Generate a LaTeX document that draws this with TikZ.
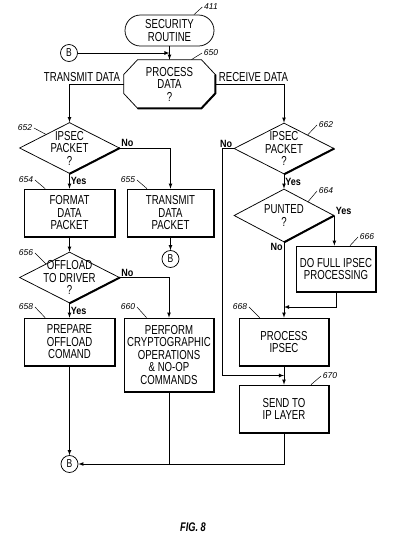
\documentclass[tikz,border=0pt]{standalone}
\usepackage{fontspec}
\setmainfont{Liberation Sans}
\newfontfamily\flowfont[FakeStretch=0.74]{Liberation Sans}
\newfontfamily\tagfont[FakeStretch=0.86]{Liberation Sans}
\usetikzlibrary{arrows}
\usetikzlibrary{shapes.geometric}

\begin{document}
\begin{tikzpicture}[>=latex, x=1pt, y=-1pt, line width=.75pt,
	txt/.style={font=\flowfont\fontsize{13}{12.5}\selectfont},
	box/.style={txt, draw, rectangle, inner sep=1pt, align=center,
		minimum width=90pt, minimum height=48pt},
	term/.style={txt, draw, rounded corners=15.5pt, align=center,
		minimum width=89pt, minimum height=31pt},
	decide/.style={txt, draw, diamond, aspect=2, inner sep=-7pt,
		align=center, minimum width=100pt, minimum height=51pt},
	conn/.style={draw, circle, inner sep=0pt, minimum size=17pt,
		font=\flowfont\fontsize{11.5}{11.5}\selectfont},
	yn/.style={inner sep=1pt, font=\tagfont\bfseries\fontsize{10.5}{10.5}\selectfont},
	ref/.style={inner sep=1.5pt, font=\itshape\fontsize{8.5}{8.5}\selectfont},
	lead/.style={line width=.5pt},
	heavy/.style={line width=2pt},
]
	\useasboundingbox (0,0) rectangle (400,542);

	% start and main branch
	\node[term] (sr) at (169.5,30.5) {SECURITY\\ROUTINE};
	\node[conn] (b1) at (69,53) {B};
	\node[txt, align=center, minimum width=91pt, minimum height=48pt] (pd)
		at (169.5,84) {PROCESS\\DATA\\?};
	\draw ([xshift=14pt]pd.north west) -- ([xshift=-14pt]pd.north east)
		-- ([yshift=-15pt]pd.north east) -- ([yshift=15pt]pd.south east)
		-- ([xshift=-14pt]pd.south east) -- ([xshift=14pt]pd.south west)
		-- ([yshift=15pt]pd.south west) -- ([yshift=-15pt]pd.north west) -- cycle;
	\draw[heavy] ([yshift=-15pt]pd.north east) -- ([yshift=15pt]pd.south east)
		-- ([xshift=-14pt]pd.south east) -- ([xshift=14pt]pd.south west);
	\node[txt] (tx) at (82,77.5) {TRANSMIT DATA};
	\node[txt] (rx) at (253.5,77.5) {RECEIVE DATA};

	% transmit side
	\node[decide] (d652) at (69.5,148) {IPSEC\\PACKET\\?};
	\node[box] (b654) at (69.5,213) {FORMAT\\DATA\\PACKET};
	\node[box, minimum width=87pt] (b655) at (170.5,213) {TRANSMIT\\DATA\\PACKET};
	\node[conn] (b2) at (170.5,259) {B};
	\node[decide] (d656) at (69.5,277.5) {OFFLOAD\\TO DRIVER\\?};
	\node[box] (b658) at (69.5,342) {PREPARE\\OFFLOAD\\COMAND};
	\node[box, minimum width=89pt, minimum height=74pt] (b660) at (169,355)
		{PERFORM\\CRYPTOGRAPHIC\\OPERATIONS\\\& NO-OP\\COMMANDS};
	\node[conn] (b3) at (69.5,464) {B};

	% receive side
	\node[decide] (d662) at (284,148.5) {IPSEC\\PACKET\\?};
	\node[decide, minimum height=53pt] (d664) at (284,215.5) {PUNTED\\?};
	\node[box, minimum width=79pt, minimum height=46pt] (b666) at (336,269)
		{DO FULL IPSEC\\PROCESSING};
	\node[box] (b668) at (284,342) {PROCESS\\IPSEC};
	\node[box] (b670) at (284,409) {SEND TO\\IP LAYER};
	\coordinate (j1) at (284,307);
	\coordinate (j2) at (284,375.5);

	\node[txt, font=\flowfont\bfseries\itshape\fontsize{12.5}{12.5}\selectfont]
		(fig) at (193,527) {FIG. 8};

	% shadow edges
	\foreach \n in {b654,b655,b658,b660,b666,b668,b670}{
		\draw[heavy] (\n.south west) -| (\n.north east);
	}
	\foreach \n in {d652,d656,d662,d664}{
		\draw[heavy] (\n.east) -- (\n.south);
	}

	% connectors
	\draw[->] (sr) -- (pd);
	\draw[->] (b1) -- (b1 -| sr);
	\draw[->] (pd) -| (d652);
	\draw[->] (pd) -| (d662);
	\draw[->] (d652) -- node[yn, right] (y652) {Yes} (b654);
	\draw[->] (d652) -| node[yn, pos=0, anchor=south west] (n652) {No} (b655);
	\draw[->] (b655) -- (b2);
	\draw[->] (b654) -- (d656);
	\draw[->] (d656) -- node[yn, right] (y656) {Yes} (b658);
	\draw[->] (d656) -| node[yn, pos=0, anchor=south west] (n656) {No} (b660);
	\draw[->] (b658) -- (b3);
	\draw (b660) -- (b660 |- b3);
	\draw[->] (b670) |- (b3);
	\draw[->] (d662) -- node[yn, right] (y662) {Yes} (d664);
	\draw[->] (d662.west) -- node[yn, pos=0, anchor=south east] (n662) {No}
		++(-11,0) |- (j2);
	\draw[->] (d664.east) -- node[yn, pos=0, anchor=south west] (y664) {Yes}
		(d664.east |- b666.north);
	\draw[->] (d664) -- node[yn, pos=0, anchor=north east] (n664) {No} (b668);
	\draw[->] (b666) |- (j1);
	\draw[->] (b668) -- (b670);

	% reference numerals
	\foreach \t/\x/\y/\s/\a in {411/211/7/west/sr.33, 650/211/53/west/pd.48,
		652/25/128/east/d652.150, 654/26/180/east/b654.135,
		655/128/180/east/b655.134, 656/26/253/east/d656.150,
		658/26/307/east/b658.135, 660/128/307/east/b660.121,
		662/326/125/west/d662.30, 664/326/191/west/d664.30,
		666/367/237/west/b666.59, 668/240/307/east/b668.135,
		670/330/376/west/b670.42}{
		\node[ref] (r\t) at (\x,\y) {\t};
		\draw[lead] (r\t.\s) -- (\a);
	}
\end{tikzpicture}
\end{document}
